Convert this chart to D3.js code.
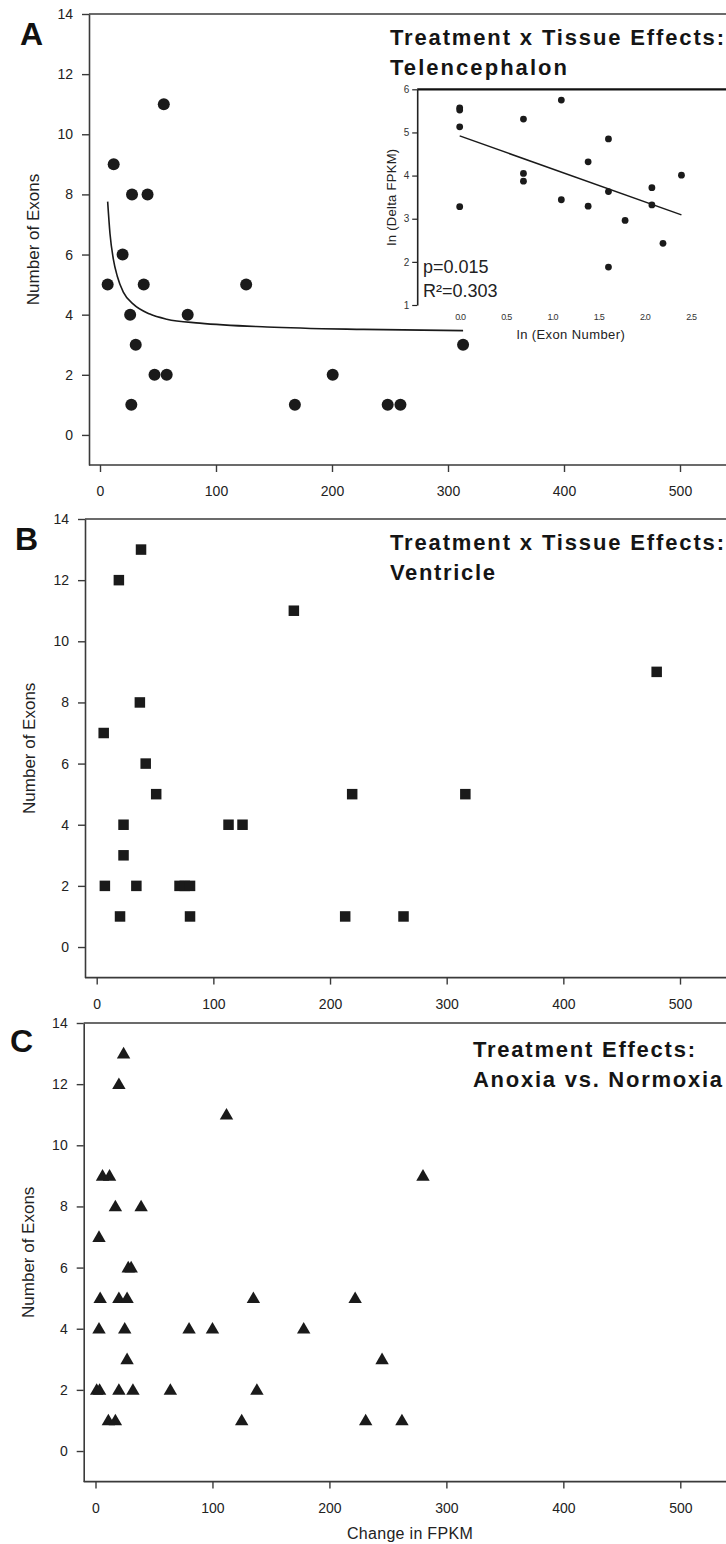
<!DOCTYPE html>
<html>
<head>
<meta charset="utf-8">
<script src="https://cdn.jsdelivr.net/npm/d3@7"></script>
<style>
  html, body { margin: 0; padding: 0; background: #fff; }
  svg { display: block; }
  text { font-family: "Liberation Sans", Arial, sans-serif; }
</style>
</head>
<body>
<svg id="chart" width="726" height="1544"></svg>
<script>
// ---------- DATA ----------
// Panel A: Telencephalon
const fpkmA  = [6.6, 11.8, 19.5, 26, 27, 27.6, 30.8, 37.7, 41, 47, 55, 57.5, 75.6, 126, 168, 200.6, 248, 259, 313];
const exonsA = [5,   9,    6,    4,  1,  8,    3,    5,    8,  2,  11, 2,    4,    5,   1,   2,     1,   1,   3];
// Panel A fitted curve
const fitX = [6.6, 8.6, 11.5, 14.9, 20.1, 28.7, 43, 57.5, 86, 144, 227, 313];
const fitY = [7.76, 6.7, 5.85, 5.28, 4.75, 4.35, 4.02, 3.85, 3.72, 3.59, 3.51, 3.47];
// Inset: ln values
const lnExon = [0, 0, 0, 0, 0.69, 0.69, 0.69, 1.10, 1.10, 1.39, 1.39, 1.61, 1.61, 1.61, 1.79, 2.08, 2.08, 2.20, 2.40];
const lnFpkm = [5.57, 5.52, 5.13, 3.28, 5.31, 4.05, 3.87, 5.75, 3.44, 4.32, 3.29, 4.85, 3.63, 1.88, 2.96, 3.72, 3.32, 2.43, 4.01];
const regX = [0, 2.40];
const regY = [4.92, 3.09];
const insetXTicks = [0, 0.5, 1.0, 1.5, 2.0, 2.5];
const insetYTicks = [1, 2, 3, 4, 5, 6];
// Panel B: Ventricle
const fpkmB  = [38, 19, 169, 37, 6, 42, 51, 23, 113, 125, 23, 7, 34, 71, 75.5, 80, 20, 80, 213, 263, 219, 316, 480];
const exonsB = [13, 12, 11,  8,  7, 6,  5,  4,  4,   4,   3,  2, 2,  2,  2,    2,  1,  1,  1,   1,   5,   5,   9];
// Panel C: Anoxia vs Normoxia
const fpkmC  = [24, 20, 112, 6, 12, 17, 39, 3, 28, 30.5, 4, 20, 27, 135, 222, 3, 25, 80, 100, 178, 27, 245, 1, 3.5, 20, 32, 64, 138, 11, 17, 125, 231, 262, 280];
const exonsC = [13, 12, 11,  9, 9,  8,  8,  7, 6,  6,    5, 5,  5,  5,   5,   4, 4,  4,  4,   4,   3,  3,   2, 2,   2,  2,  2,  2,   1,  1,  1,   1,   1,   9];
// Axis ticks
const xTicks = [0, 100, 200, 300, 400, 500];
const yTicks = [0, 2, 4, 6, 8, 10, 12, 14];
const titlesA = ["Treatment x Tissue Effects:", "Telencephalon"];
const titlesB = ["Treatment x Tissue Effects:", "Ventricle"];
const titlesC = ["Treatment Effects:", "Anoxia vs. Normoxia"];

// ---------- DRAW ----------
const svg = d3.select("#chart");
const W = 726;
const axisColor = "#3a3a3a";
const inkColor = "#1a1a1a";

function panel(cfg) {
  const g = svg.append("g");
  const x = d3.scaleLinear().domain([0, 500]).range(cfg.xr);
  const y = d3.scaleLinear().domain([-1, 14]).range(cfg.yr);
  const yTop = y(14), yBot = y(-1);

  g.append("line").attr("x1", cfg.left).attr("x2", W).attr("y1", yTop).attr("y2", yTop)
    .attr("stroke", axisColor).attr("stroke-width", 1.6);
  g.append("line").attr("x1", cfg.left).attr("x2", W).attr("y1", yBot).attr("y2", yBot)
    .attr("stroke", axisColor).attr("stroke-width", 1.6);

  const ya = g.append("g").attr("transform", `translate(${cfg.left},0)`)
    .call(d3.axisLeft(y).tickValues(yTicks).tickSize(7).tickSizeOuter(0).tickPadding(9));
  ya.select(".domain").attr("stroke", axisColor).attr("stroke-width", 1.6);
  ya.selectAll(".tick line").attr("stroke", axisColor).attr("stroke-width", 1.4);
  ya.selectAll(".tick text").attr("font-size", 14).attr("fill", "#222")
    .attr("font-family", "'Liberation Sans', Arial, sans-serif");

  const xa = g.append("g").attr("transform", `translate(0,${yBot})`)
    .call(d3.axisBottom(x).tickValues(xTicks).tickSize(7).tickSizeOuter(0).tickPadding(14));
  xa.select(".domain").remove();
  xa.selectAll(".tick line").attr("stroke", axisColor).attr("stroke-width", 1.4);
  xa.selectAll(".tick text").attr("font-size", 14).attr("fill", "#222")
    .attr("font-family", "'Liberation Sans', Arial, sans-serif");

  const cy = (yTop + yBot) / 2;
  const lx = cfg.left - 50;
  g.append("text").attr("transform", `translate(${lx},${cy}) rotate(-90)`)
    .attr("text-anchor", "middle").attr("font-size", 17).attr("fill", "#222")
    .text("Number of Exons");

  g.append("text").attr("x", cfg.letterX).attr("y", cfg.letterY)
    .attr("font-size", 32).attr("font-weight", "bold").attr("fill", "#111")
    .text(cfg.letter);

  cfg.titles.forEach((t, i) => {
    const tt = g.append("text").attr("x", cfg.titleX).attr("y", cfg.titleY + i * 30)
      .attr("font-size", 22).attr("font-weight", "bold").attr("fill", "#151515")
      .text(t);
    if (cfg.titleLens[i]) tt.attr("textLength", cfg.titleLens[i]).attr("lengthAdjust", "spacing");
  });

  return { g, x, y };
}

// Panel A
const A = panel({ left: 89, xr: [100, 680], yr: [465, 14], letter: "A", letterX: 20, letterY: 45,
  titles: titlesA, titleX: 390, titleY: 45, titleLens: [334, 177] });
A.g.append("path")
  .datum(fitX.map((v, i) => [v, fitY[i]]))
  .attr("d", d3.line().x(d => A.x(d[0])).y(d => A.y(d[1])).curve(d3.curveMonotoneX))
  .attr("fill", "none").attr("stroke", inkColor).attr("stroke-width", 1.6);
A.g.selectAll("circle.pt").data(fpkmA.map((v, i) => [v, exonsA[i]])).join("circle")
  .attr("cx", d => A.x(d[0])).attr("cy", d => A.y(d[1])).attr("r", 6).attr("fill", inkColor);

// Inset
const ig = svg.append("g");
const xi = d3.scaleLinear().domain([0, 2.5]).range([459.7, 690.7]);
const yi = d3.scaleLinear().domain([1, 6]).range([305, 89.3]);
const inLeft = xi(-0.46);
ig.append("line").attr("x1", inLeft).attr("x2", W).attr("y1", yi(6)).attr("y2", yi(6))
  .attr("stroke", "#111").attr("stroke-width", 2.2);
const iya = ig.append("g").attr("transform", `translate(${inLeft},0)`)
  .call(d3.axisLeft(yi).tickValues(insetYTicks).tickSize(5).tickSizeOuter(0).tickPadding(3).tickFormat(d3.format("d")));
iya.select(".domain").attr("stroke", "#222").attr("stroke-width", 1.6);
iya.selectAll(".tick line").attr("stroke", "#222").attr("stroke-width", 1.2);
iya.selectAll(".tick text").attr("font-size", 10).attr("fill", "#333")
  .attr("font-family", "'Liberation Sans', Arial, sans-serif");
const ixa = ig.append("g").attr("transform", `translate(0,${yi(1)})`)
  .call(d3.axisBottom(xi).tickValues(insetXTicks).tickSize(0).tickFormat(d3.format(".1f")).tickPadding(9));
ixa.select(".domain").remove();
ixa.selectAll(".tick text").attr("font-size", 9).attr("fill", "#333").attr("letter-spacing", -0.8)
  .attr("font-family", "'Liberation Sans', Arial, sans-serif");
ig.append("text").attr("x", 571).attr("y", 339).attr("text-anchor", "middle")
  .attr("font-size", 13).attr("fill", "#222").attr("letter-spacing", 0.4).text("ln (Exon Number)");
ig.append("text").attr("transform", `translate(396,197) rotate(-90)`).attr("text-anchor", "middle")
  .attr("font-size", 13).attr("fill", "#222").attr("letter-spacing", 0.3).text("ln (Delta FPKM)");
ig.append("path")
  .datum(regX.map((v, i) => [v, regY[i]]))
  .attr("d", d3.line().x(d => xi(d[0])).y(d => yi(d[1])))
  .attr("fill", "none").attr("stroke", inkColor).attr("stroke-width", 1.5);
ig.selectAll("circle").data(lnExon.map((v, i) => [v, lnFpkm[i]])).join("circle")
  .attr("cx", d => xi(d[0])).attr("cy", d => yi(d[1])).attr("r", 3.4).attr("fill", inkColor);
ig.append("text").attr("x", 423).attr("y", 273).attr("font-family", "Lato, 'Open Sans', sans-serif")
  .attr("font-size", 18).attr("fill", "#222").text("p=0.015");
ig.append("text").attr("x", 423).attr("y", 297).attr("font-family", "Lato, 'Open Sans', sans-serif")
  .attr("font-size", 18).attr("fill", "#222").text("R²=0.303");

// Panel B
const B = panel({ left: 85, xr: [96.7, 680], yr: [977.6, 519], letter: "B", letterX: 15, letterY: 550,
  titles: titlesB, titleX: 390, titleY: 550, titleLens: [334, 105] });
const sq = 10.5;
B.g.selectAll("rect.pt").data(fpkmB.map((v, i) => [v, exonsB[i]])).join("rect")
  .attr("x", d => B.x(d[0]) - sq / 2).attr("y", d => B.y(d[1]) - sq / 2)
  .attr("width", sq).attr("height", sq).attr("fill", inkColor);

// Panel C
const C = panel({ left: 83.7, xr: [95.5, 680.3], yr: [1481.6, 1023], letter: "C", letterX: 10, letterY: 1052,
  titles: titlesC, titleX: 473, titleY: 1057, titleLens: [222, 249] });
const tri = d3.symbol().type(d3.symbolTriangle).size(78);
C.g.selectAll("path.pt").data(fpkmC.map((v, i) => [v, exonsC[i]])).join("path")
  .attr("transform", d => `translate(${C.x(d[0])},${C.y(d[1]) + 1})`)
  .attr("d", tri).attr("fill", inkColor);
svg.append("text").attr("x", 410).attr("y", 1539).attr("text-anchor", "middle")
  .attr("font-size", 16).attr("fill", "#222").attr("letter-spacing", 0.3).text("Change in FPKM");
</script>
</body>
</html>
